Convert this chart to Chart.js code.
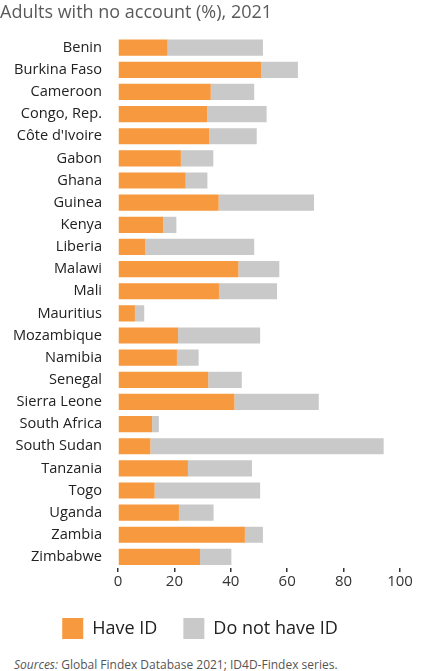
<!DOCTYPE html>
<html>
<head>
<meta charset="utf-8">
<script src="https://cdn.jsdelivr.net/npm/chart.js@4"></script>
<style>
  html, body { margin: 0; padding: 0; background: #fff; }
  #wrap { position: relative; width: 423px; height: 671px; }
  #box { position: absolute; left: 0; top: 0; width: 423px; height: 649px; }
  #src { position: absolute; left: 14px; top: 656px; font-family: "Open Sans", sans-serif; font-size: 12px; color: #555; white-space: nowrap; }
</style>
</head>
<body>
<div id="wrap">
  <div id="box"><canvas id="c"></canvas></div>
  <div id="src"><i>Sources:</i> Global Findex Database 2021; ID4D-Findex series.</div>
</div>
<script>
const categories = ["Benin","Burkina Faso","Cameroon","Congo, Rep.","Côte d'Ivoire","Gabon","Ghana","Guinea","Kenya","Liberia","Malawi","Mali","Mauritius","Mozambique","Namibia","Senegal","Sierra Leone","South Africa","South Sudan","Tanzania","Togo","Uganda","Zambia","Zimbabwe"];
const haveID =    [17.6, 50.7, 32.9, 31.6, 32.4, 22.3, 24.0, 35.7, 16.0, 9.6, 42.7, 35.8, 6.0, 21.3, 20.9, 32.0, 41.3, 12.1, 11.5, 24.8, 13.0, 21.6, 45.0, 29.1];
const noID =      [33.8, 13.1, 15.4, 21.1, 16.8, 11.5, 7.7, 33.8, 4.7, 38.7, 14.5, 20.6, 3.3, 29.1, 7.7, 11.9, 29.9, 2.4, 82.7, 22.7, 37.4, 12.3, 6.4, 11.1];
const xTicks = [0, 20, 40, 60, 80, 100];

const FONT = "'Open Sans', sans-serif";
new Chart(document.getElementById('c'), {
  type: 'bar',
  data: {
    labels: categories,
    datasets: [
      { label: 'Have ID', data: haveID, backgroundColor: '#F7993E', borderWidth: 0, barPercentage: 0.73, categoryPercentage: 1 },
      { label: 'Do not have ID', data: noID, backgroundColor: '#C9C9C9', borderWidth: 0, barPercentage: 0.73, categoryPercentage: 1 }
    ]
  },
  options: {
    indexAxis: 'y',
    responsive: true,
    maintainAspectRatio: false,
    animation: false,
    layout: { padding: { left: 0, right: 23, top: 0, bottom: 0 } },
    scales: {
      x: {
        stacked: true,
        min: 0, max: 100,
        afterBuildTicks: s => { s.ticks = xTicks.map(v => ({ value: v })); },
        grid: { display: true, drawOnChartArea: false, drawTicks: true, tickLength: 4, color: '#333', lineWidth: 1.5 },
        border: { display: false },
        ticks: { font: { family: FONT, size: 15 }, color: '#333', padding: 1 }
      },
      y: {
        stacked: true,
        grid: { display: false, drawTicks: false },
        border: { display: false },
        afterFit: s => { s.width = 118; },
        ticks: { font: { family: FONT, size: 14.6 }, color: '#222', padding: 16 }
      }
    },
    plugins: {
      title: {
        display: true,
        text: 'Adults with no account (%), 2021',
        align: 'start',
        color: '#5a5a5a',
        font: { family: FONT, size: 18, weight: 'normal' },
        padding: { top: 2, bottom: 13 }
      },
      legend: {
        position: 'bottom',
        labels: { boxWidth: 21, boxHeight: 21, padding: 26, color: '#222', font: { family: FONT, size: 18 } }
      },
      tooltip: { enabled: false }
    }
  }
});
</script>
</body>
</html>
